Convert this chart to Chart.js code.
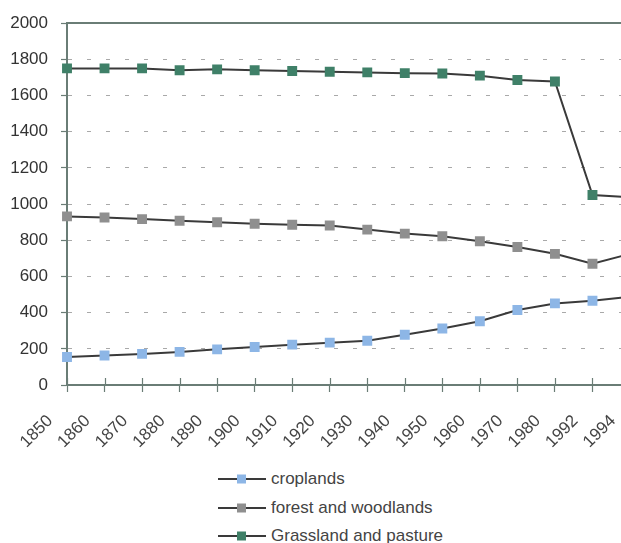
<!DOCTYPE html>
<html>
<head>
<meta charset="utf-8">
<script src="https://cdn.jsdelivr.net/npm/chart.js@4.4.1/dist/chart.umd.min.js"></script>
<style>
  html, body { margin: 0; padding: 0; background: #ffffff; }
  body { width: 621px; height: 543px; overflow: hidden; position: relative; font-family: "Liberation Sans", Arial, sans-serif; }
  #wrap { position: absolute; left: 0; top: 0; width: 621px; height: 450px; overflow: hidden; }
  #legend { position: absolute; left: 218px; top: 465px; color: #444; font-size: 17px; }
  #legend .row { height: 28.5px; display: flex; align-items: center; }
  #legend svg { margin-right: 5px; }
</style>
</head>
<body>
<div id="wrap"><canvas id="chart" width="640" height="450"></canvas></div>
<div id="legend"></div>
<script>
// Land use, 1850–1994
const years = ['1850', '1860', '1870', '1880', '1890', '1900', '1910', '1920',
               '1930', '1940', '1950', '1960', '1970', '1980', '1992', '1994'];
const croplands = [155, 163, 172, 183, 197, 210, 223, 234, 245, 278, 312, 352, 415, 451, 466, 488];
const forest    = [932, 926, 917, 908, 900, 891, 886, 882, 859, 837, 822, 795, 763, 725, 670, 725];
const grassland = [1750, 1750, 1750, 1740, 1745, 1740, 1736, 1732, 1728, 1724, 1722, 1710, 1686, 1678, 1050, 1038];
const yTicks = [0, 200, 400, 600, 800, 1000, 1200, 1400, 1600, 1800, 2000];

const seriesNames = ['croplands', 'forest and woodlands', 'Grassland and pasture'];
const seriesColors = ['#8db6e6', '#8f8f8f', '#3f8068'];
const seriesData = [croplands, forest, grassland];

const axisColor = '#6a7d76';
const lineColor = '#3a3a3a';
const font = { family: '"Liberation Sans", Arial, sans-serif', size: 17 };

// short tick marks that cross the category axis
const crossTicks = {
  id: 'crossTicks',
  afterDatasetsDraw(chart) {
    const x = chart.scales.x;
    const ctx = chart.ctx;
    ctx.save();
    ctx.strokeStyle = axisColor;
    ctx.lineWidth = 1.2;
    ctx.beginPath();
    for (let i = 0; i < x.ticks.length; i++) {
      const px = Math.round(x.getPixelForTick(i)) + 0.5;
      ctx.moveTo(px, x.top - 7);
      ctx.lineTo(px, x.top);
    }
    ctx.stroke();
    ctx.restore();
  }
};

new Chart(document.getElementById('chart'), {
  type: 'line',
  data: {
    labels: years,
    datasets: seriesData.map((d, i) => ({
      label: seriesNames[i],
      data: d,
      borderColor: lineColor,
      borderWidth: 2,
      pointStyle: 'rect',
      pointRadius: 7,
      pointHoverRadius: 7,
      pointBackgroundColor: seriesColors[i],
      pointBorderColor: seriesColors[i],
      pointBorderWidth: 0,
      tension: 0
    }))
  },
  options: {
    responsive: false,
    animation: false,
    devicePixelRatio: 1,
    layout: { padding: { top: 19, right: 10, left: 0, bottom: 0 } },
    plugins: { legend: { display: false }, tooltip: { enabled: false } },
    scales: {
      x: {
        type: 'category',
        offset: false,
        afterFit(s) { s.height = 65; s.paddingLeft = 0; s.paddingRight = 0; },
        grid: { display: true, drawOnChartArea: false, drawTicks: true, tickLength: 7, tickColor: axisColor, tickWidth: 1.2 },
        border: { display: true, color: axisColor, width: 2 },
        ticks: { color: '#444', font: font, minRotation: 45, maxRotation: 45, autoSkip: false, labelOffset: -17, padding: 19 }
      },
      xTop: {
        type: 'category',
        position: 'top',
        labels: years,
        offset: false,
        afterFit(s) { s.height = 0; s.paddingLeft = 0; s.paddingRight = 0; },
        grid: { display: false },
        border: { display: true, color: axisColor, width: 2 },
        ticks: { display: false }
      },
      y: {
        min: 0,
        max: 2000,
        afterFit(s) { s.width = 67; },
        afterBuildTicks(s) { s.ticks = yTicks.map(v => ({ value: v })); },
        grid: {
          color: ctx => (ctx.tick && (ctx.tick.value === 0 || ctx.tick.value === 2000)) ? 'rgba(0,0,0,0)' : '#a9a9a9',
          lineWidth: 1,
          tickLength: 6,
          tickColor: axisColor,
          tickWidth: 1.2
        },
        border: { display: true, color: axisColor, width: 2, dash: [4, 15] },
        ticks: { color: '#333', font: font, padding: 13, callback: v => String(v) }
      }
    }
  },
  plugins: [crossTicks]
});

// legend: line with square marker, one row per series
const legend = document.getElementById('legend');
seriesNames.forEach((name, i) => {
  const row = document.createElement('div');
  row.className = 'row';
  row.innerHTML =
    '<svg width="48" height="14" viewBox="0 0 48 14">' +
    '<line x1="0" y1="7" x2="48" y2="7" stroke="' + lineColor + '" stroke-width="2"/>' +
    '<rect x="19" y="2.5" width="9" height="9" fill="' + seriesColors[i] + '"/>' +
    '</svg><span>' + name + '</span>';
  legend.appendChild(row);
});
</script>
</body>
</html>
